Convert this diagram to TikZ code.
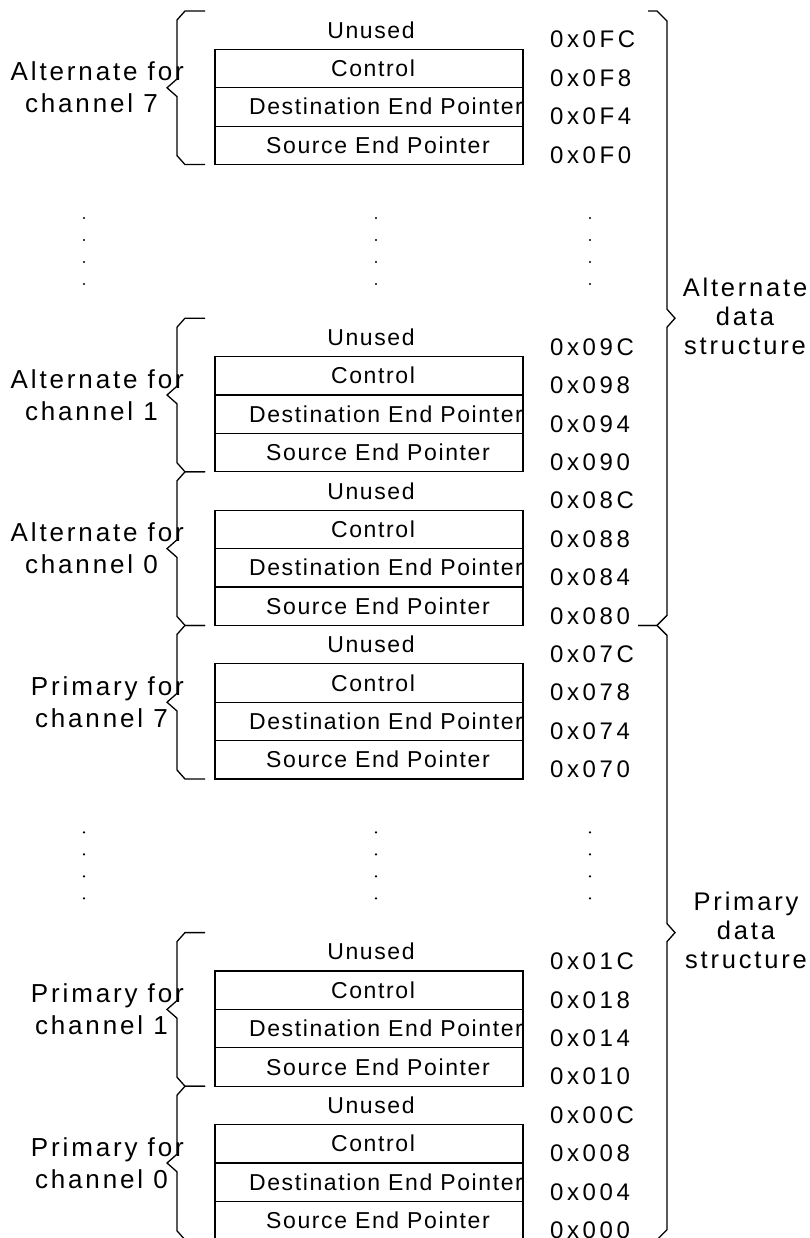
\documentclass[tikz,border=0pt]{standalone}
\usepackage{fontspec}
\setmainfont{Liberation Sans}
\newfontfamily\lblf[LetterSpace=11]{Liberation Sans}
\newfontfamily\boxf[LetterSpace=7]{Liberation Sans}
\newfontfamily\adrf[LetterSpace=15]{Liberation Sans}
\begin{document}
\begin{tikzpicture}[x=1pt,y=-1pt,
  rowtxt/.style={anchor=base,inner sep=0pt,font=\boxf\fontsize{23}{27}\selectfont},
  adrtxt/.style={anchor=base west,inner sep=0pt,font=\adrf\fontsize{24}{28}\selectfont},
  lbltxt/.style={anchor=base east,inner sep=0pt,font=\lblf\fontsize{26}{30}\selectfont},
  rlbl/.style={anchor=base,inner sep=0pt,font=\lblf\fontsize{25.5}{30}\selectfont},
  cell/.style={draw,line width=1.3pt},
  brace/.style={draw,line width=1.3pt,line join=miter},
  dotn/.style={fill,circle,inner sep=0pt,minimum size=2.4pt}]
\useasboundingbox (0,0) rectangle (810,1238);
% groups
\foreach \k/\nm/\la/\lb/\lx/\aa/\ab/\ac/\ad in {
  0/a7/Alternate for/channel 7/158/0x0FC/0x0F8/0x0F4/0x0F0,
  2/a1/Alternate for/channel 1/158/0x09C/0x098/0x094/0x090,
  3/a0/Alternate for/channel 0/158/0x08C/0x088/0x084/0x080,
  4/p7/Primary for/channel 7/168/0x07C/0x078/0x074/0x070,
  6/p1/Primary for/channel 1/168/0x01C/0x018/0x014/0x010,
  7/p0/Primary for/channel 0/168/0x00C/0x008/0x004/0x000}{
  \pgfmathsetmacro\T{11+\k*153.6}
  \draw[cell] (215,\T+38.4) rectangle (523,\T+153.6);
  \draw[cell] (215,\T+76.8) -- (523,\T+76.8);
  \draw[cell] (215,\T+115.2) -- (523,\T+115.2);
  \node[rowtxt] (u\nm) at (371,\T+27.2) {Unused};
  \node[rowtxt] (c\nm) at (373,\T+65.6) {Control};
  \node[rowtxt] (d\nm) at (386,\T+104) {Destination End Pointer};
  \node[rowtxt] (s\nm) at (378,\T+142.4) {Source End Pointer};
  \node[adrtxt] (ad\nm) at (550,\T+37) {\aa};
  \node[adrtxt] (ae\nm) at (550,\T+75.4) {\ab};
  \node[adrtxt] (af\nm) at (550,\T+113.8) {\ac};
  \node[adrtxt] (ag\nm) at (550,\T+152.2) {\ad};
  \node[lbltxt] (la\nm) at (184,\T+70) {\la};
  \node[lbltxt] (lb\nm) at (\lx,\T+102) {\lb};
  \draw[brace] (205,\T) -- (185,\T) -- (177,\T+9) -- (177,\T+68) -- (167,\T+76.8)
     -- (177,\T+85.6) -- (177,\T+144.6) -- (185,\T+153.6) -- (205,\T+153.6);
}
% dots
\foreach \k in {1,5}{
  \pgfmathsetmacro\T{11+\k*153.6}
  \foreach \i in {0,1,2,3}{
    \node[dotn] (x\k\i) at (84,\T+53.4+22*\i) {};
    \node[dotn] (y\k\i) at (376,\T+53.4+22*\i) {};
    \node[dotn] (z\k\i) at (590,\T+53.4+22*\i) {};
  }
}
% right braces
\draw[brace] (648,11) -- (657,11) -- (667,21) -- (667,309.2) -- (675,318.2)
  -- (667,327.2) -- (667,615.4) -- (657,625.4) -- (638,625.4);
\draw[brace] (638,625.4) -- (657,625.4) -- (667,635.4) -- (667,923.6) -- (675,932.6)
  -- (667,941.6) -- (667,1229.8) -- (657,1239.8) -- (648,1239.8);
\node[rlbl] (alt1) at (745,296) {Alternate};
\node[rlbl] (alt2) at (745,325) {data};
\node[rlbl] (alt3) at (745,354) {structure};
\node[rlbl] (pri1) at (746,910) {Primary};
\node[rlbl] (pri2) at (746,939) {data};
\node[rlbl] (pri3) at (746,968) {structure};
\end{tikzpicture}
\end{document}
